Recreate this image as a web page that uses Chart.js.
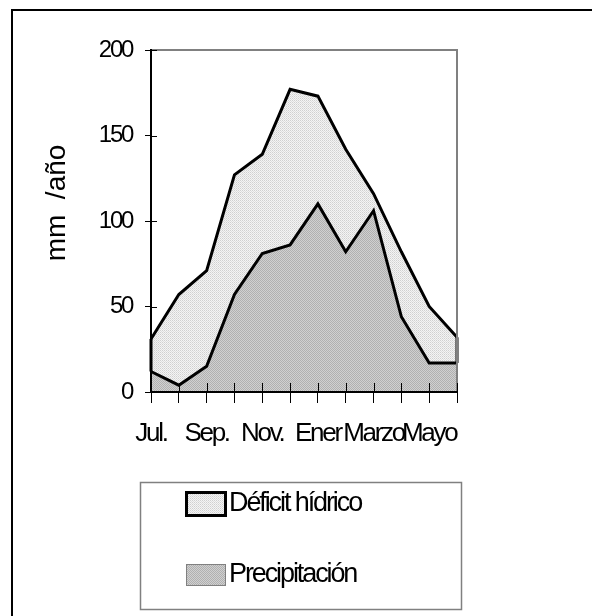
<!DOCTYPE html>
<html>
<head>
<meta charset="utf-8">
<script src="https://cdn.jsdelivr.net/npm/chart.js@4.4.1/dist/chart.umd.min.js"></script>
<style>
  html, body { margin: 0; padding: 0; background: #fff; }
  canvas { display: block; }
</style>
</head>
<body>
<canvas id="myChart" width="592" height="616"></canvas>
<script>
// Meses (solo se rotulan los impares)
const months = ['Jul.', 'Ago.', 'Sep.', 'Oct.', 'Nov.', 'Dic.', 'Ener', 'Feb.', 'Marzo', 'Abr.', 'Mayo', 'Jun.']
// Series apiladas, mm/año
const precipitacion = [12, 4, 15, 57, 81, 86, 110, 82, 106, 44, 17, 17]
const deficitHidrico = [19, 53, 56, 70, 58, 91, 63, 60, 10, 38, 33, 15]
const yTicks = [0, 50, 100, 150, 200]
const yTitle = 'mm  /año'

const FONT = "'Liberation Sans', Arial, sans-serif"

// small dotted fills like the old excel patterns
function makePattern(a, b, c) {
    let p = document.createElement('canvas')
    p.width = 2
    p.height = 2
    let pc = p.getContext('2d')
    pc.fillStyle = b
    pc.fillRect(0, 0, 2, 2)
    pc.fillStyle = a
    pc.fillRect(0, 0, 1, 1)
    pc.fillStyle = c
    pc.fillRect(1, 1, 1, 1)
    return pc.createPattern(p, 'repeat')
}
const lightFill = makePattern('#d0d0d0', '#f4f4f4', '#dedede')
const darkFill = makePattern('#b0b0b0', '#d0d0d0', '#b0b0b0')

const framePlugin = {
    id: 'frame',
    beforeDraw(chart) {
        let ctx = chart.ctx
        ctx.letterSpacing = '0px'
        ctx.save()
        ctx.strokeStyle = '#000'
        ctx.lineWidth = 2
        ctx.beginPath()
        ctx.moveTo(592, 10)
        ctx.lineTo(12, 10)
        ctx.lineTo(12, 616)
        ctx.stroke()
        ctx.restore()
    },
    afterDatasetsDraw(chart) {
        let ctx = chart.ctx
        let area = chart.chartArea
        let x = chart.scales.x
        let y = chart.scales.y
        ctx.save()
        // side edges of the deficit band
        ctx.strokeStyle = '#000'
        ctx.lineWidth = 3
        ;[0, months.length - 1].forEach(i => {
            let px = x.getPixelForValue(i)
            ctx.beginPath()
            ctx.moveTo(px, y.getPixelForValue(precipitacion[i]))
            ctx.lineTo(px, y.getPixelForValue(precipitacion[i] + deficitHidrico[i]))
            ctx.stroke()
        })
        // grey top and right border of the plot
        ctx.strokeStyle = '#808080'
        ctx.lineWidth = 2
        ctx.beginPath()
        ctx.moveTo(area.left, area.top)
        ctx.lineTo(area.right, area.top)
        ctx.lineTo(area.right, area.bottom)
        ctx.stroke()
        // tick marks poking into the plot
        ctx.strokeStyle = '#000'
        ctx.lineWidth = 1
        x.ticks.forEach((t, i) => {
            let px = Math.round(x.getPixelForTick(i)) + 0.5
            ctx.beginPath()
            ctx.moveTo(px, area.bottom)
            ctx.lineTo(px, area.bottom - 9)
            ctx.stroke()
        })
        y.ticks.forEach((t, i) => {
            let py = Math.round(y.getPixelForTick(i)) + 0.5
            ctx.beginPath()
            ctx.moveTo(area.left, py)
            ctx.lineTo(area.left + 6, py)
            ctx.stroke()
        })
        ctx.restore()
        // tick labels come after this hook (ticks.z = 1)
        ctx.letterSpacing = '-2.3px'
    },
    afterDraw(chart) {
        let ctx = chart.ctx
        // axis title
        ctx.save()
        ctx.letterSpacing = '0px'
        ctx.fillStyle = '#000'
        ctx.font = '28px ' + FONT
        ctx.translate(57, 203)
        ctx.rotate(-Math.PI / 2)
        ctx.textAlign = 'center'
        ctx.textBaseline = 'middle'
        ctx.fillText(yTitle, 0, 0)
        ctx.restore()

        // legend box, top series first like excel does
        ctx.save()
        ctx.strokeStyle = '#808080'
        ctx.lineWidth = 1.5
        ctx.strokeRect(140.5, 482.5, 321, 127)
        let sets = chart.data.datasets.slice().reverse()
        let rows = [504, 575]
        ctx.font = '27px ' + FONT
        ctx.letterSpacing = '-2.1px'
        ctx.textBaseline = 'middle'
        ctx.textAlign = 'left'
        sets.forEach((ds, i) => {
            let cy = rows[i]
            ctx.fillStyle = ds.backgroundColor
            if (i === 0) {
                ctx.fillRect(186, cy - 12, 40, 24)
                ctx.strokeStyle = '#000'
                ctx.lineWidth = 3
                ctx.strokeRect(186.5, cy - 11.5, 39, 23)
            } else {
                ctx.fillRect(186, cy - 11, 40, 22)
                ctx.strokeStyle = '#808080'
                ctx.lineWidth = 1
                ctx.strokeRect(186.5, cy - 10.5, 39, 21)
            }
            ctx.fillStyle = '#000'
            ctx.fillText(ds.label, 229, cy)
        })
        ctx.restore()
    }
}

let ctx = document.getElementById('myChart')

let myChart = new Chart(ctx, {
    type: 'line',
    data: {
        labels: months,
        datasets: [{
            label: 'Precipitación',
            data: precipitacion,
            backgroundColor: darkFill,
            borderColor: '#000',
            borderWidth: 3,
            fill: 'origin',
            pointRadius: 0,
            tension: 0
        }, {
            label: 'Déficit hídrico',
            data: deficitHidrico,
            backgroundColor: lightFill,
            borderColor: '#000',
            borderWidth: 3,
            fill: '-1',
            pointRadius: 0,
            tension: 0
        }]
    },
    options: {
        responsive: false,
        animation: false,
        layout: {
            padding: { left: 12, top: 50, right: 135, bottom: 0 }
        },
        plugins: {
            legend: { display: false },
            tooltip: { enabled: false }
        },
        scales: {
            x: {
                offset: false,
                grid: { drawOnChartArea: false, tickLength: 11, color: '#000', lineWidth: 1 },
                border: { color: '#000', width: 2, z: 2 },
                ticks: {
                    autoSkip: false,
                    maxRotation: 0,
                    padding: 15,
                    z: 1,
                    color: '#000',
                    font: { family: FONT, size: 26 },
                    callback: (val, i) => i % 2 === 0 ? months[i] : ''
                },
                afterFit: s => {
                    s.height = 224
                    s.paddingLeft = 0
                    s.paddingRight = 0
                }
            },
            y: {
                stacked: true,
                min: 0,
                max: 200,
                grid: { drawOnChartArea: false, tickLength: 6, color: '#000', lineWidth: 1 },
                border: { color: '#000', width: 2, z: 2 },
                ticks: {
                    stepSize: 50,
                    padding: 13,
                    z: 1,
                    color: '#000',
                    font: { family: FONT, size: 24 },
                    callback: v => yTicks.includes(v) ? v : ''
                },
                afterFit: s => {
                    s.width = 139
                    s.paddingTop = 0
                    s.paddingBottom = 0
                }
            }
        }
    },
    plugins: [framePlugin]
});
</script>
</body>
</html>
